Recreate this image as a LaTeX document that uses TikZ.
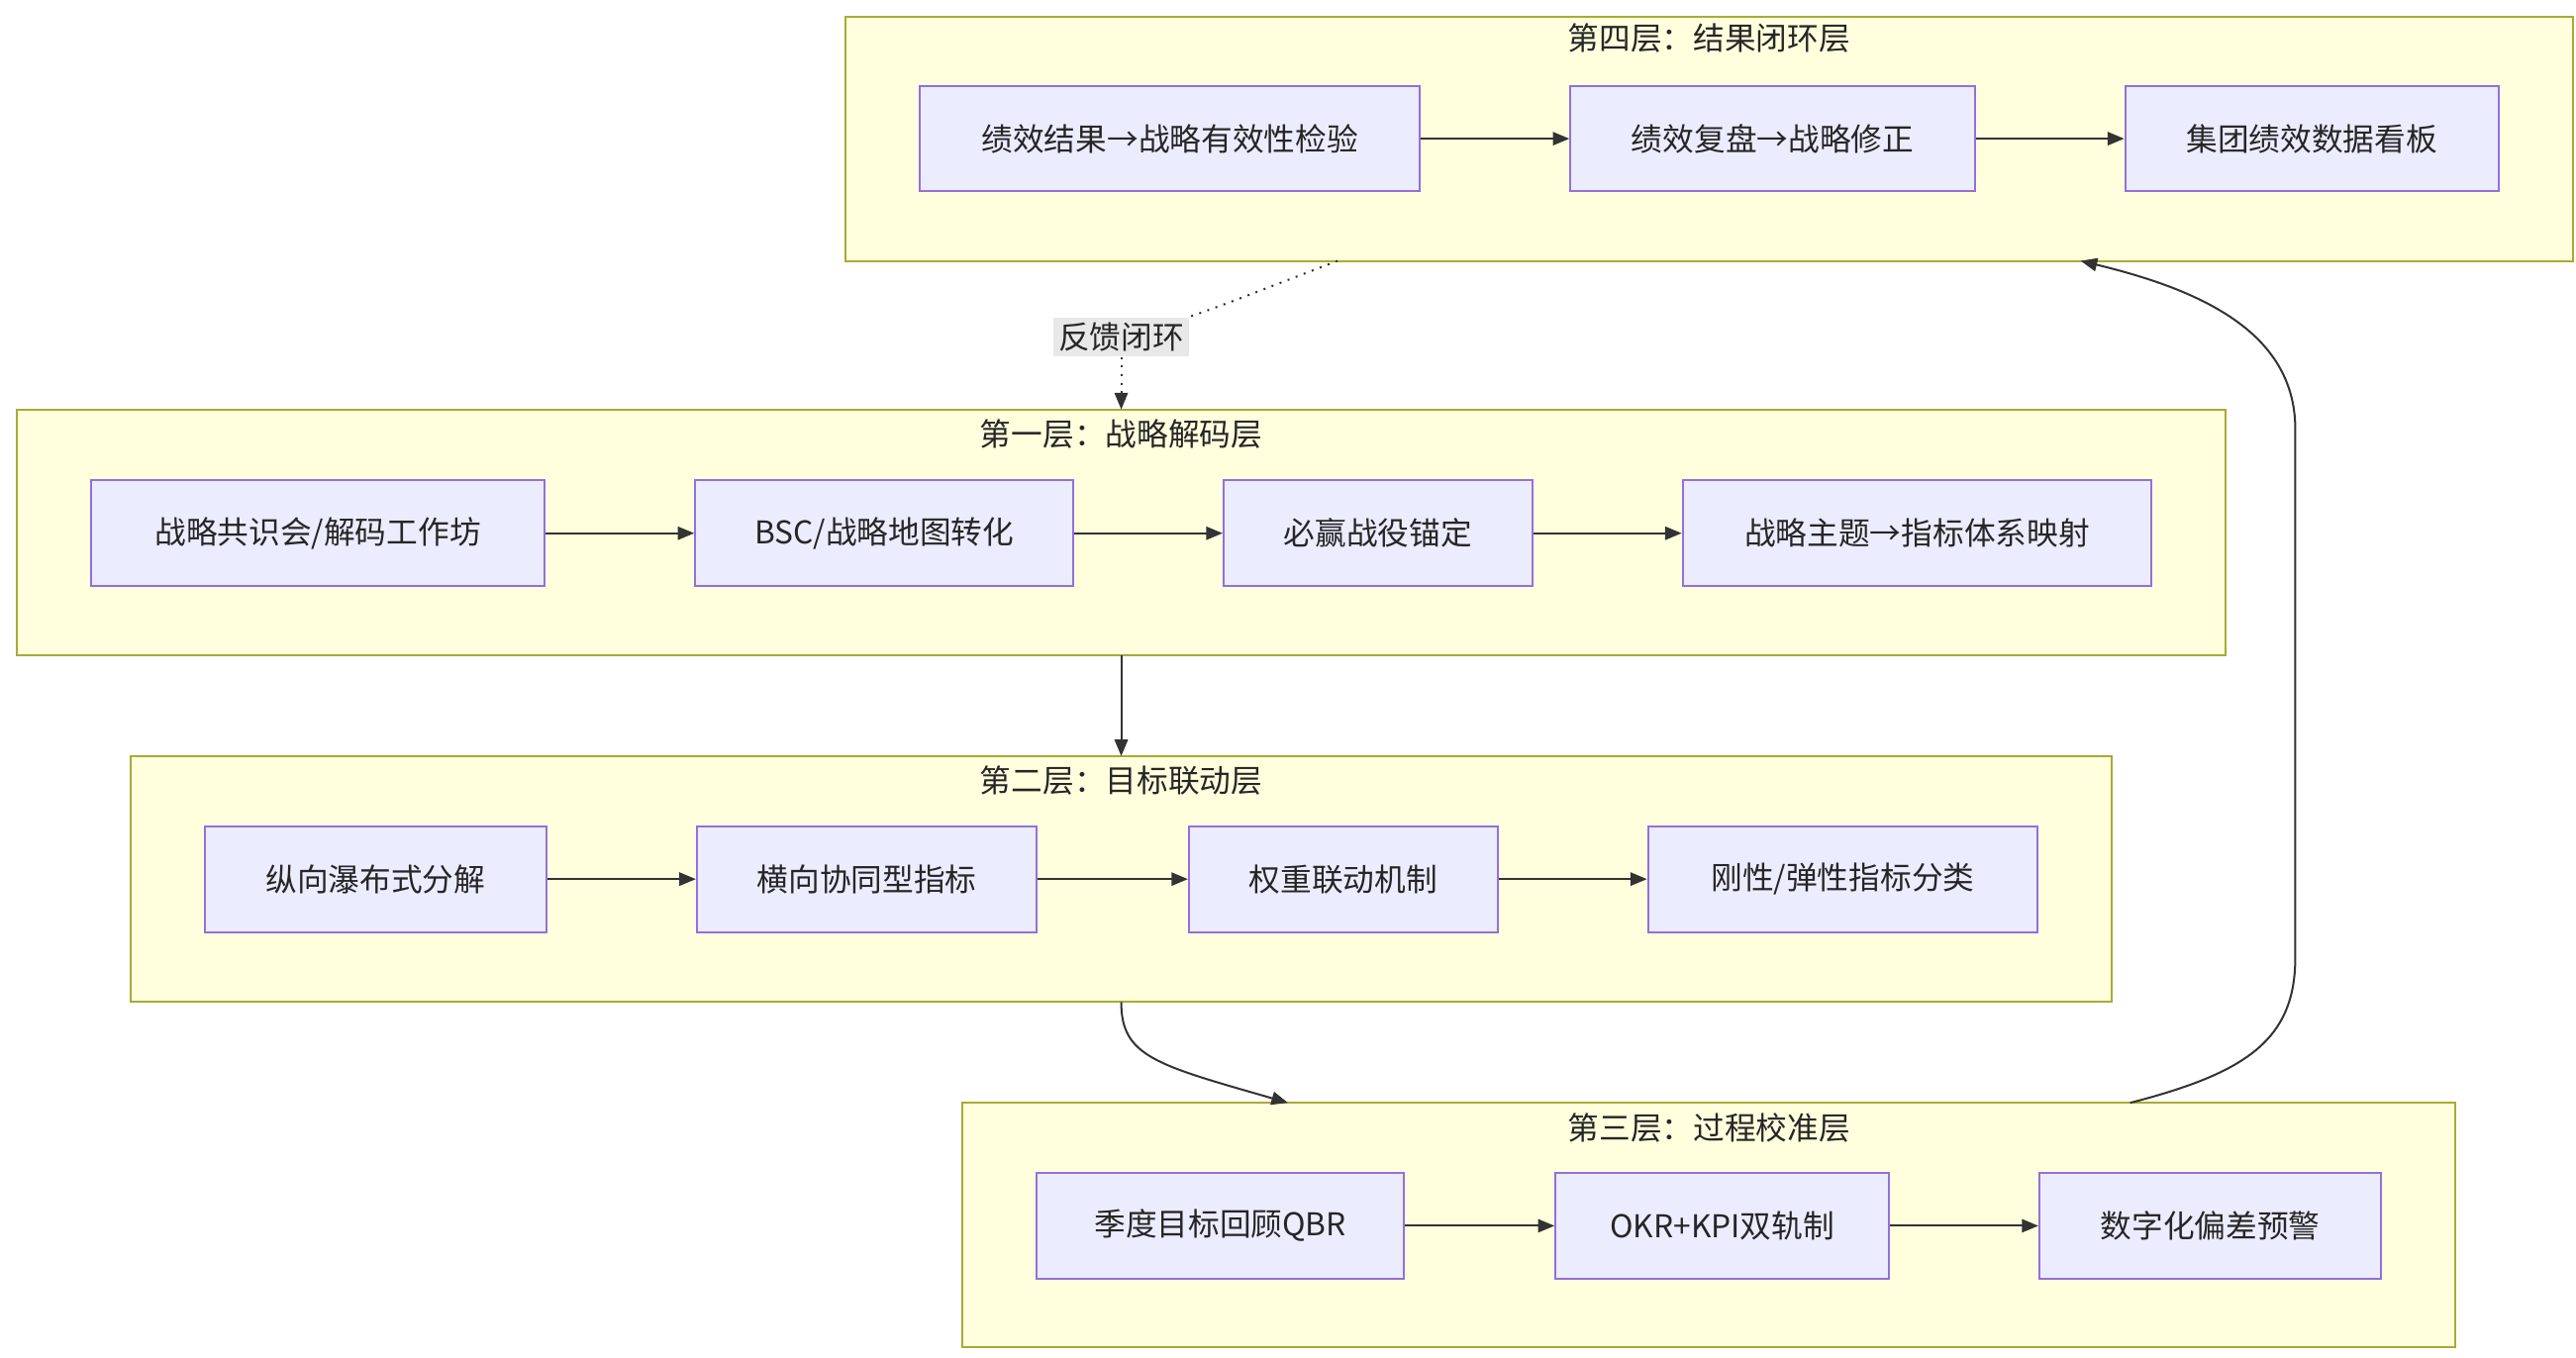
\documentclass[tikz,border=0pt]{standalone}
\usepackage{fontspec}
\setmainfont{Noto Sans CJK SC}
\usetikzlibrary{arrows.meta}
\definecolor{boxfill}{HTML}{ECECFF}
\definecolor{boxline}{HTML}{9370DB}
\definecolor{layfill}{HTML}{FFFFDE}
\definecolor{layline}{HTML}{AAAA33}
\definecolor{lblbg}{HTML}{E8E8E8}
\begin{document}
\begin{tikzpicture}[x=0.5pt,y=-0.5pt,
  box/.style={draw=boxline,fill=boxfill,line width=0.6pt,minimum height=32pt,inner sep=0pt,font=\fontsize{9.5}{11}\selectfont,text=black!85},
  layer/.style={draw=layline,fill=layfill,line width=0.6pt,inner sep=0pt},
  ttl/.style={font=\fontsize{9.5}{11}\selectfont,text=black!85},
  arr/.style={draw=black!80,line width=0.6pt,-{Triangle[length=5pt,width=4pt]}}]
\useasboundingbox (0,0) rectangle (1560,822);
% layers
\node[layer,minimum width=523pt,minimum height=74pt] (L4) at (1035,84) {};
\node[layer,minimum width=669pt,minimum height=74.5pt] (L1) at (679,322.5) {};
\node[layer,minimum width=600pt,minimum height=74.5pt] (L2) at (679,532.5) {};
\node[layer,minimum width=452pt,minimum height=74pt] (L3) at (1035,742) {};
\node[ttl] (t4) at (1035,23) {第四层：结果闭环层};
\node[ttl] (t1) at (679,263) {第一层：战略解码层};
\node[ttl] (t2) at (679,473) {第二层：目标联动层};
\node[ttl] (t3) at (1035,683) {第三层：过程校准层};
% nodes
\node[box,minimum width=151.5pt] (A1) at (708.5,84) {绩效结果→战略有效性检验};
\node[box,minimum width=122.5pt] (A2) at (1073.5,84) {绩效复盘→战略修正};
\node[box,minimum width=113pt] (A3) at (1400,84) {集团绩效数据看板};
\node[box,minimum width=137.5pt] (B1) at (192.5,323) {战略共识会/解码工作坊};
\node[box,minimum width=114.5pt] (B2) at (535.5,323) {BSC/战略地图转化};
\node[box,minimum width=93.5pt] (B3) at (834.5,323) {必赢战役锚定};
\node[box,minimum width=142pt] (B4) at (1161,323) {战略主题→指标体系映射};
\node[box,minimum width=103.5pt] (C1) at (227.5,532.5) {纵向瀑布式分解};
\node[box,minimum width=103pt] (C2) at (525,532.5) {横向协同型指标};
\node[box,minimum width=93.5pt] (C3) at (813.5,532.5) {权重联动机制};
\node[box,minimum width=118pt] (C4) at (1116,532.5) {刚性/弹性指标分类};
\node[box,minimum width=111pt] (D1) at (739,742.5) {季度目标回顾QBR};
\node[box,minimum width=101pt] (D2) at (1043,742.5) {OKR+KPI双轨制};
\node[box,minimum width=103.5pt] (D3) at (1338.5,742.5) {数字化偏差预警};
\draw[arr] (A1) -- (A2); \draw[arr] (A2) -- (A3);
\draw[arr] (B1) -- (B2); \draw[arr] (B2) -- (B3); \draw[arr] (B3) -- (B4);
\draw[arr] (C1) -- (C2); \draw[arr] (C2) -- (C3); \draw[arr] (C3) -- (C4);
\draw[arr] (D1) -- (D2); \draw[arr] (D2) -- (D3);
% inter-layer
\coordinate (p4b) at (810,158);
\coordinate (p1t) at (679,248);
\coordinate (p1b) at (679,397);
\coordinate (p2t) at (679,458);
\coordinate (p2b) at (679,607);
\coordinate (p3t) at (780,668);
\coordinate (p3r) at (1290,668);
\coordinate (p4r) at (1260,158);
\node[fill=lblbg,inner sep=1.5pt,ttl] (fb) at (679,204) {反馈闭环};
\draw[draw=black!80,line width=0.6pt,dotted] (p4b) .. controls (740,185) .. (fb.north east);
\draw[arr,dotted] (fb.south) .. controls (679,228) .. (p1t);
\draw[arr] (p1b) -- (p2t);
\draw[arr] (p2b) .. controls (679,640) and (700,645) .. (p3t);
\draw[arr] (p3r) .. controls (1360,650) and (1390,630) .. (1390,580) -- (1390,260) .. controls (1390,200) and (1330,175) .. (p4r);
\end{tikzpicture}
\end{document}
